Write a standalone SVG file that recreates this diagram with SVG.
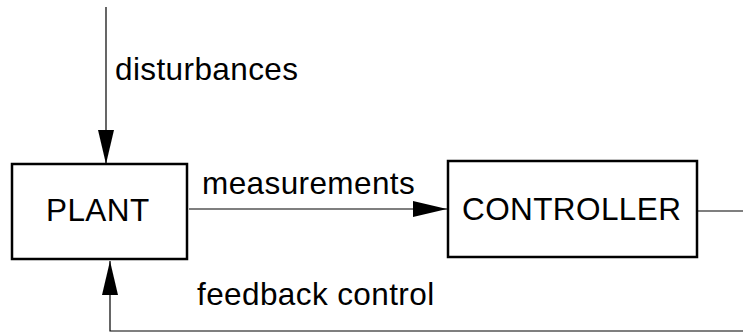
<svg xmlns="http://www.w3.org/2000/svg" width="743" height="335" viewBox="0 0 743 335">
<style>
.box{fill:#fff;stroke:#000;stroke-width:2.5}
.ln{fill:none;stroke:#000;stroke-width:1.2}
.t{font-family:"Liberation Sans",Arial,sans-serif;font-size:31.5px;letter-spacing:0.4px;fill:#000}
</style>
<defs>
<marker id="ah" markerUnits="userSpaceOnUse" markerWidth="34" markerHeight="16" refX="34" refY="8" orient="auto">
<path d="M0,0 L34,8 L0,16 Z" fill="#000"/>
</marker>
</defs>
<rect width="743" height="335" fill="#fff"/>
<g id="connectors">
<line class="ln" x1="106" y1="7" x2="106" y2="164" marker-end="url(#ah)"/>
<line class="ln" x1="189" y1="209" x2="447" y2="209" marker-end="url(#ah)"/>
<polyline class="ln" points="697,211 743,211"/>
<polyline class="ln" points="743,331 110,331 110,261" marker-end="url(#ah)"/>
</g>
<g id="plant">
<rect class="box" x="12" y="164" width="175" height="95"/>
<text class="t" x="46" y="221">PLANT</text>
</g>
<g id="controller">
<rect class="box" x="448" y="161" width="249" height="96"/>
<text class="t" x="462" y="220">CONTROLLER</text>
</g>
<g id="labels">
<text class="t" x="115" y="80">disturbances</text>
<text class="t" x="202" y="194">measurements</text>
<text class="t" x="197" y="305">feedback control</text>
</g>
</svg>
